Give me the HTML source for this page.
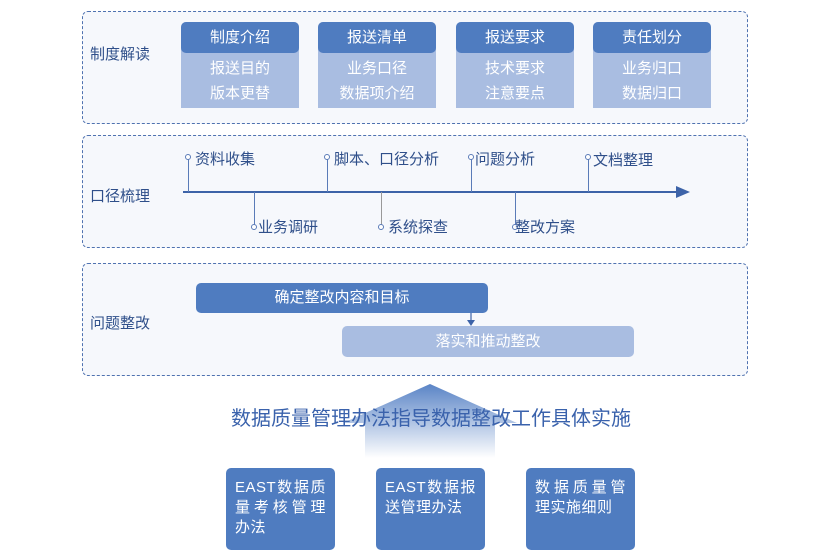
<!DOCTYPE html>
<html><head><meta charset="utf-8"><style>
body{margin:0;width:828px;height:557px;background:#fff;position:relative;overflow:hidden;font-family:"Liberation Sans","Noto Sans CJK SC",sans-serif}
.p{position:absolute;left:82px;width:666px;border:1.3px dashed #4f72b0;border-radius:6px;background:#f6f8fc;box-sizing:border-box}
.lab{position:absolute;left:90px;font-size:15px;color:#2f4f8a}
.card{position:absolute;top:22px;width:118px;height:86px;background:#a9bde1;border-radius:5px 5px 0 0}
.card .h{height:31px;background:#4f7cc0;border-radius:5px;color:#fff;font-size:15px;text-align:center;line-height:31px}
.card .b{color:#fff;font-size:15px;text-align:center;line-height:25px;padding-top:3px}
.t{position:absolute;font-size:15px;color:#2f4f8a}
.v{position:absolute;width:1px;background:#5a7bb8}
.dot{position:absolute;width:4px;height:4px;border:1px solid #5a7bb8;border-radius:50%;background:#fff}
.bx{position:absolute;top:468px;width:109px;height:82px;background:#4f7cc0;border-radius:5px;color:#fff;font-size:15px;line-height:20px;padding:10px 9px;box-sizing:border-box;letter-spacing:0.5px;text-align:justify;text-align-last:left}
</style></head><body>
<div class="p" style="top:11px;height:113px"></div>
<div class="p" style="top:135px;height:113px"></div>
<div class="p" style="top:263px;height:113px"></div>
<div class="lab" style="top:43px">制度解读</div>
<div class="lab" style="top:185px">口径梳理</div>
<div class="lab" style="top:312px">问题整改</div>
<div class="card" style="left:181px"><div class="h">制度介绍</div><div class="b">报送目的<br>版本更替</div></div>
<div class="card" style="left:318px"><div class="h">报送清单</div><div class="b">业务口径<br>数据项介绍</div></div>
<div class="card" style="left:456px"><div class="h">报送要求</div><div class="b">技术要求<br>注意要点</div></div>
<div class="card" style="left:593px"><div class="h">责任划分</div><div class="b">业务归口<br>数据归口</div></div>
<svg style="position:absolute;left:0;top:0" width="828" height="557">
<line x1="183" y1="192" x2="678" y2="192" stroke="#3d63a8" stroke-width="2"/>
<polygon points="676,186 690,192 676,198" fill="#3d63a8"/>
<line x1="471" y1="313" x2="471" y2="322" stroke="#3d63a8" stroke-width="1.2"/>
<polygon points="467,320 475,320 471,326" fill="#3d63a8"/>
<defs><linearGradient id="g" x1="0" y1="0" x2="0" y2="1"><stop offset="0" stop-color="#5a84c6"/><stop offset="1" stop-color="#fff"/></linearGradient></defs>
<polygon points="430,384 517,423 495,423 495,458 365,458 365,423 343,423" fill="url(#g)"/>
</svg>
<div class="v" style="left:188px;top:158px;height:34px"></div><div class="dot" style="left:185px;top:154px"></div><div class="t" style="left:195px;top:148px">资料收集</div>
<div class="v" style="left:327px;top:158px;height:34px"></div><div class="dot" style="left:324px;top:154px"></div><div class="t" style="left:334px;top:148px">脚本、口径分析</div>
<div class="v" style="left:471px;top:158px;height:34px"></div><div class="dot" style="left:468px;top:154px"></div><div class="t" style="left:475px;top:148px">问题分析</div>
<div class="v" style="left:588px;top:158px;height:34px"></div><div class="dot" style="left:585px;top:154px"></div><div class="t" style="left:593px;top:149px">文档整理</div>
<div class="v" style="left:254px;top:192px;height:34px"></div><div class="dot" style="left:251px;top:224px"></div><div class="t" style="left:258px;top:216px">业务调研</div>
<div class="v" style="left:381px;top:192px;height:34px;background:#999"></div><div class="dot" style="left:378px;top:224px"></div><div class="t" style="left:388px;top:216px">系统探查</div>
<div class="v" style="left:515px;top:192px;height:34px"></div><div class="dot" style="left:512px;top:224px"></div><div class="t" style="left:515px;top:216px">整改方案</div>
<div style="position:absolute;left:196px;top:283px;width:292px;height:30px;background:#4f7cc0;border-radius:5px;color:#fff;font-size:15px;text-align:center;line-height:30px">确定整改内容和目标</div>
<div style="position:absolute;left:342px;top:326px;width:292px;height:31px;background:#a9bde1;border-radius:5px;color:#fff;font-size:15px;text-align:center;line-height:31px">落实和推动整改</div>
<div style="position:absolute;left:226px;top:402px;width:410px;text-align:center;font-size:20px;color:#3a62ac;white-space:nowrap">数据质量管理办法指导数据整改工作具体实施</div>
<div class="bx" style="left:226px">EAST数据质量考核管理办法</div>
<div class="bx" style="left:376px">EAST数据报送管理办法</div>
<div class="bx" style="left:526px">数据质量管理实施细则</div>
</body></html>
